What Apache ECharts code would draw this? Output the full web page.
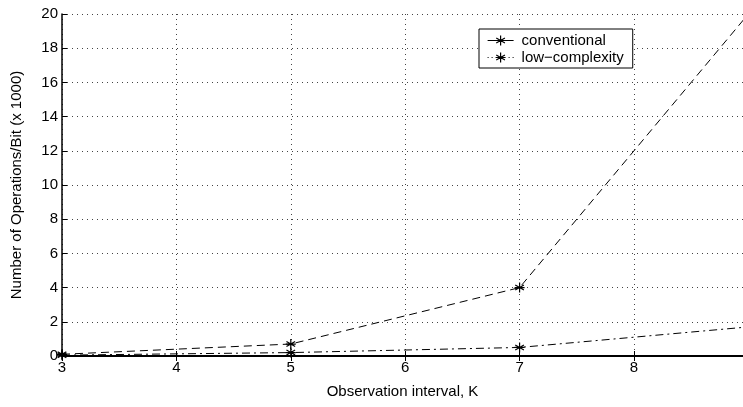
<!DOCTYPE html>
<html>
<head>
<meta charset="utf-8">
<script src="https://cdn.jsdelivr.net/npm/echarts@6/dist/echarts.min.js"></script>
<style>html,body{margin:0;padding:0;background:#fff;}#c{width:743px;height:407px;}</style>
</head>
<body>
<div id="c"></div>
<script>
var kValues = [3, 5, 7, 9];
var conventional = [0.1, 0.7, 4.0, 20.0];
var lowComplexity = [0.05, 0.2, 0.5, 1.7];
var xTicks = [3, 4, 5, 6, 7, 8];
var yTicks = [0, 2, 4, 6, 8, 10, 12, 14, 16, 18, 20];
var xMin = 3, xMax = 8.953;

function pairs(ys) { return kValues.map(function (k, i) { return [k, ys[i]]; }); }
var star = 'path://M0,-5L0,5M-4.33,-2.5L4.33,2.5M-4.33,2.5L4.33,-2.5M-5,0L5,0';
var legendSolid = 'path://M-13,0L13,0M0,-5L0,5M-4.33,-2.5L4.33,2.5M-4.33,2.5L4.33,-2.5M-5,0L5,0';
var legendDotted = 'path://M-13,0L-12,0M-9,0L-8,0M8,0L9,0M12,0L13,0M0,-5L0,5M-4.33,-2.5L4.33,2.5M-4.33,2.5L4.33,-2.5M-5,0L5,0';
var font = 'Liberation Sans, Arial, Helvetica, sans-serif';
var markStyle = {color: 'rgba(0,0,0,0)', borderColor: '#000', borderWidth: 1.2};

var chart = echarts.init(document.getElementById('c'), null, {renderer: 'canvas'});
chart.setOption({
  animation: false,
  backgroundColor: '#fff',
  textStyle: {fontFamily: font},
  grid: {left: 62, top: 14, right: 0, bottom: 51, containLabel: false, outerBoundsMode: 'none'},
  legend: {
    left: 479, top: 29, orient: 'vertical',
    backgroundColor: '#fff',
    borderColor: '#000', borderWidth: 1, borderRadius: 0,
    padding: [4, 9, 3, 8], itemGap: 2,
    itemWidth: 26, itemHeight: 10,
    textStyle: {fontFamily: font, fontSize: 15, color: '#000', padding: [0, 0, 0, 3]},
    data: [
      {name: 'conventional', icon: legendSolid, itemStyle: markStyle},
      {name: 'low\u2212complexity', icon: legendDotted, itemStyle: markStyle}
    ]
  },
  xAxis: [{
    type: 'value', min: xMin, max: xMax, interval: 1,
    name: 'Observation interval, K', nameLocation: 'middle', nameGap: 28,
    nameTextStyle: {fontFamily: font, fontSize: 15, color: '#000'},
    axisLine: {show: true, onZero: false, lineStyle: {color: '#000', width: 2}},
    axisTick: {show: true, inside: true, length: 5, lineStyle: {color: '#000'}},
    axisLabel: {fontFamily: font, fontSize: 15, color: '#000', margin: 4, showMaxLabel: false,
      formatter: function (v) { return xTicks.indexOf(v) >= 0 ? String(v) : ''; }},
    splitLine: {show: true, lineStyle: {color: '#444', type: [1, 4], width: 1}}
  }, {
    type: 'value', min: xMin, max: xMax, interval: 1, position: 'top',
    axisLine: {show: true, lineStyle: {color: '#000', width: 1}},
    axisTick: {show: true, inside: true, length: 5, lineStyle: {color: '#000'}},
    axisLabel: {show: false}, splitLine: {show: false}
  }],
  yAxis: [{
    type: 'value', min: 0, max: 20, interval: 2,
    name: 'Number of Operations/Bit (x 1000)', nameLocation: 'middle', nameGap: 38,
    nameTextStyle: {fontFamily: font, fontSize: 15, color: '#000'},
    axisLine: {show: true, lineStyle: {color: '#000', width: 1.5}},
    axisTick: {show: true, inside: true, length: 5, lineStyle: {color: '#000'}},
    axisLabel: {fontFamily: font, fontSize: 15, color: '#000', margin: 4,
      formatter: function (v) { return yTicks.indexOf(v) >= 0 ? String(v) : ''; }},
    splitLine: {show: true, lineStyle: {color: '#444', type: [1, 4], width: 1}}
  }],
  series: [{
    name: 'conventional', type: 'line', data: pairs(conventional),
    symbol: star, symbolSize: 10, showAllSymbol: true, clip: true,
    lineStyle: {color: '#000', width: 1, type: [8, 5]},
    itemStyle: markStyle
  }, {
    name: 'low\u2212complexity', type: 'line', data: pairs(lowComplexity),
    symbol: star, symbolSize: 10, showAllSymbol: true, clip: true,
    lineStyle: {color: '#000', width: 1, type: [8, 4, 2, 4]},
    itemStyle: markStyle
  }]
});
</script>
</body>
</html>
